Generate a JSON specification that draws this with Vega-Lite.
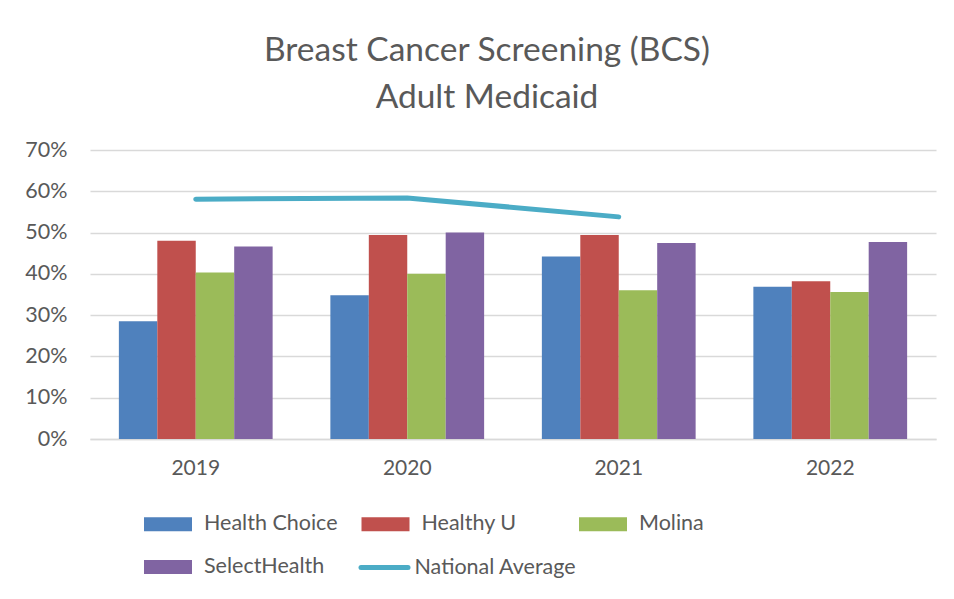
{
  "$schema": "https://vega.github.io/schema/vega-lite/v6.json",
  "width": 846,
  "height": 289,
  "autosize": {"type": "none"},
  "padding": {"left": 90, "top": 150, "right": 18, "bottom": 160},
  "background": "white",
  "config": {
    "font": "Lato",
    "view": {"stroke": null},
    "axis": {"labelFont": "Lato", "labelColor": "#595959", "labelFontSize": 21.5, "ticks": false, "title": null}
  },
  "title": {
    "text": ["Breast Cancer Screening (BCS)", "Adult Medicaid"],
    "anchor": "middle",
    "dx": -26,
    "offset": 24,
    "fontSize": 33.5,
    "font": "Lato",
    "fontWeight": "normal",
    "color": "#595959",
    "lineHeight": 47
  },
  "datasets": {
    "bars": [
      {"year": "2019", "plan": "Health Choice", "rate": 0.285},
      {"year": "2019", "plan": "Healthy U", "rate": 0.480},
      {"year": "2019", "plan": "Molina", "rate": 0.403},
      {"year": "2019", "plan": "SelectHealth", "rate": 0.466},
      {"year": "2020", "plan": "Health Choice", "rate": 0.348},
      {"year": "2020", "plan": "Healthy U", "rate": 0.494},
      {"year": "2020", "plan": "Molina", "rate": 0.400},
      {"year": "2020", "plan": "SelectHealth", "rate": 0.500},
      {"year": "2021", "plan": "Health Choice", "rate": 0.442},
      {"year": "2021", "plan": "Healthy U", "rate": 0.494},
      {"year": "2021", "plan": "Molina", "rate": 0.360},
      {"year": "2021", "plan": "SelectHealth", "rate": 0.475},
      {"year": "2022", "plan": "Health Choice", "rate": 0.369},
      {"year": "2022", "plan": "Healthy U", "rate": 0.382},
      {"year": "2022", "plan": "Molina", "rate": 0.356},
      {"year": "2022", "plan": "SelectHealth", "rate": 0.477}
    ],
    "national": [
      {"year": "2019", "series": "National Average", "rate": 0.581},
      {"year": "2020", "series": "National Average", "rate": 0.584},
      {"year": "2021", "series": "National Average", "rate": 0.538}
    ]
  },
  "layer": [
    {
      "data": {"name": "bars"},
      "mark": {"type": "bar"},
      "encoding": {
        "x": {
          "field": "year", "type": "nominal",
          "scale": {"domain": ["2019", "2020", "2021", "2022"], "paddingInner": 0.273, "paddingOuter": 0.1365},
          "axis": {"labelAngle": 0, "labelPadding": 18, "labelFontSize": 21, "domainColor": "#D9D9D9", "domainWidth": 1.5, "grid": false}
        },
        "xOffset": {
          "field": "plan", "type": "nominal",
          "scale": {"domain": ["Health Choice", "Healthy U", "Molina", "SelectHealth"], "paddingInner": 0, "paddingOuter": 0}
        },
        "y": {
          "field": "rate", "type": "quantitative",
          "scale": {"domain": [0, 0.7], "nice": false},
          "axis": {"format": ".0%", "values": [0, 0.1, 0.2, 0.3, 0.4, 0.5, 0.6, 0.7], "domain": false, "labelPadding": 23, "gridColor": "#D9D9D9", "gridWidth": 1.5}
        },
        "fill": {
          "field": "plan", "type": "nominal",
          "scale": {"domain": ["Health Choice", "Healthy U", "Molina", "SelectHealth"], "range": ["#4F81BD", "#C0504D", "#9BBB59", "#8064A2"]},
          "legend": {
            "orient": "none", "legendX": 54, "legendY": 350,
            "direction": "horizontal", "columns": 3, "gridAlign": "all",
            "columnPadding": 23.5, "rowPadding": 8,
            "symbolType": "M-1,-0.29H1V0.29H-1Z", "symbolSize": 2304, "symbolStrokeWidth": 0,
            "labelFont": "Lato", "labelFontSize": 21.5, "labelColor": "#595959", "labelOffset": 12,
            "title": null
          }
        }
      }
    },
    {
      "data": {"name": "national"},
      "mark": {"type": "line", "strokeWidth": 5, "strokeCap": "round", "strokeJoin": "round"},
      "encoding": {
        "x": {"field": "year", "type": "nominal"},
        "y": {"field": "rate", "type": "quantitative"},
        "stroke": {
          "field": "series", "type": "nominal",
          "scale": {"domain": ["National Average"], "range": ["#4BACC6"]},
          "legend": {
            "orient": "none", "legendX": 268.5, "legendY": 391.5,
            "symbolType": "stroke", "symbolSize": 2209, "symbolStrokeWidth": 5,
            "labelFont": "Lato", "labelFontSize": 21.5, "labelColor": "#595959", "labelOffset": 4, "labelLimit": 300,
            "title": null,
            "encode": {"symbols": {"update": {"strokeCap": {"value": "round"}}}}
          }
        }
      }
    }
  ]
}
